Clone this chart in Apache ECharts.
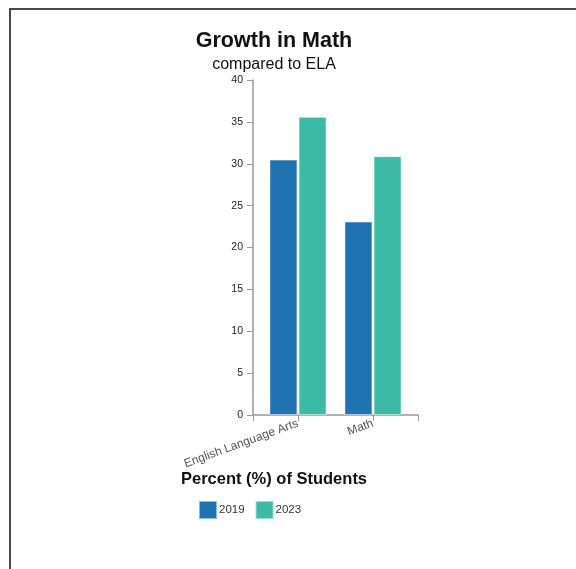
<!DOCTYPE html>
<html>
<head>
<meta charset="utf-8">
<script src="https://cdn.jsdelivr.net/npm/echarts@6/dist/echarts.min.js"></script>
<style>
  html, body { margin: 0; padding: 0; background: #fff; }
  #frame { position: absolute; left: 9px; top: 8px; width: 567px; height: 561px;
           border-top: 2px solid #4a4a4a; border-left: 2px solid #4a4a4a; box-sizing: border-box; }
  #chart { position: absolute; left: 0; top: 0; width: 576px; height: 569px; }
</style>
</head>
<body>
<div id="chart"></div>
<div id="frame"></div>
<script>
const categories = ['English Language Arts', 'Math'];
const years = ['2019', '2023'];
const values2019 = [30.5, 23.1];
const values2023 = [35.6, 30.9];
const yTicks = [0, 5, 10, 15, 20, 25, 30, 35, 40];

const colors = ['#1f73b0', '#3bbba5'];

const chart = echarts.init(document.getElementById('chart'));

// categories sit at x = 0, 1 on a value axis so the band padding matches the original
const toPoints = vals => vals.map((v, i) => [i, v]);

const option = {
    animation: false,
    color: colors,
    title: [
        {
            text: 'Growth in Math',
            left: 269, top: 25, textAlign: 'center',
            textStyle: {fontFamily: 'Liberation Sans', fontWeight: 'bold', fontSize: 21.5, color: '#111'}
        },
        {
            text: 'compared to ELA',
            left: 269, top: 52, textAlign: 'center',
            textStyle: {fontFamily: 'Liberation Sans', fontWeight: 'normal', fontSize: 16, color: '#111'}
        },
        {
            text: 'Percent (%) of Students',
            left: 269, top: 466, textAlign: 'center',
            textStyle: {fontFamily: 'Liberation Sans', fontWeight: 'bold', fontSize: 16.5, color: '#111'}
        }
    ],
    legend: {
        data: years,
        left: 193, top: 495,
        icon: 'rect',
        itemWidth: 18, itemHeight: 18, itemGap: 10,
        textStyle: {fontFamily: 'Liberation Sans', fontSize: 11.5, color: '#333', padding: [0, 0, 0, -3]}
    },
    grid: {left: 253, top: 80, width: 165, height: 335, containLabel: false},
    xAxis: {
        type: 'value',
        min: -0.6, max: 1.6,
        splitLine: {show: false},
        axisLine: {show: true, lineStyle: {color: '#999', width: 1.5}},
        axisTick: {show: true, length: 6, customValues: [-0.6, 0, 1, 1.6], lineStyle: {color: '#999'}},
        axisLabel: {
            customValues: [0, 1],
            formatter: v => categories[Math.round(v)],
            rotate: 20, margin: 8,
            fontFamily: 'Liberation Sans', fontSize: 12, color: '#555'
        }
    },
    yAxis: {
        type: 'value',
        min: yTicks[0], max: yTicks[yTicks.length - 1], interval: 5,
        splitLine: {show: false},
        axisLine: {show: true, onZero: false, lineStyle: {color: '#999', width: 1.5}},
        axisTick: {show: true, length: 6, lineStyle: {color: '#999'}},
        axisLabel: {margin: 10, fontFamily: 'Liberation Sans', fontSize: 10.5, color: '#222'}
    },
    series: [
        {
            name: years[0], type: 'bar',
            data: toPoints(values2019),
            barWidth: 28, barGap: '4%',
            itemStyle: {borderColor: 'rgba(255,255,255,0.5)', borderWidth: 1}
        },
        {
            name: years[1], type: 'bar',
            data: toPoints(values2023),
            barWidth: 28,
            itemStyle: {borderColor: 'rgba(255,255,255,0.5)', borderWidth: 1}
        }
    ]
};

chart.setOption(option);
</script>
</body>
</html>
